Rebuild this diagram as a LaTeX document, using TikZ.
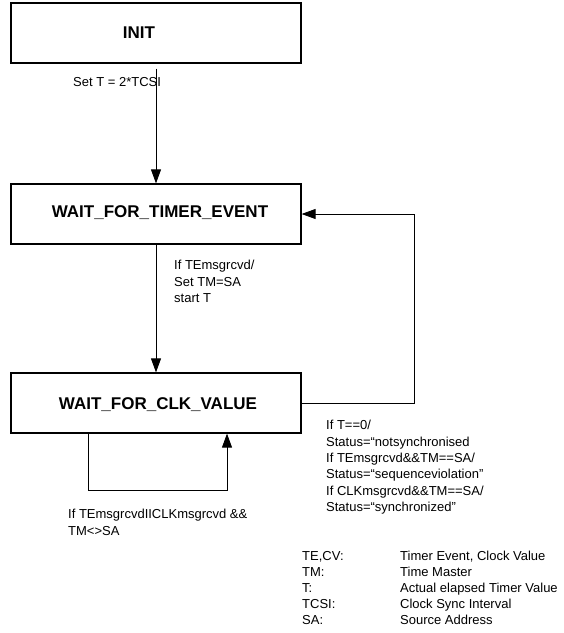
\documentclass[tikz,border=0pt]{standalone}
\usepackage{fontspec}
\setmainfont{Liberation Sans}
\usetikzlibrary{arrows.meta}
\begin{document}
\begin{tikzpicture}[x=1pt,y=-1pt,
  state/.style={draw,line width=1.2pt,minimum width=290pt,minimum height=60pt,inner sep=0pt},
  statelbl/.style={font=\fontsize{17}{20}\selectfont\bfseries,inner sep=0pt},
  cond/.style={font=\fontsize{13}{16.4}\selectfont,align=left,anchor=north west,inner sep=0pt},
  legend/.style={font=\fontsize{13}{15}\selectfont,anchor=base west,inner sep=0pt},
  trans/.style={line width=0.9pt,-{Triangle[length=14pt,width=10pt]}}]
\useasboundingbox (0,0) rectangle (564,633);
% states
\node[state] (init) at (156,33) {};
\node[statelbl] (initlbl) at (139,33) {INIT};
\node[state] (wte) at (156,214) {};
\node[statelbl] (wtelbl) at (160,213) {WAIT\_FOR\_TIMER\_EVENT};
\node[state] (clk) at (156,403) {};
\node[statelbl] (clklbl) at (158,405) {WAIT\_FOR\_CLK\_VALUE};
% transitions
\draw[trans,shorten <=5pt] (init.south) -- (wte.north);
\draw[trans] (wte.south) -- (clk.north);
\draw[trans] ([xshift=-68pt]clk.south) -- ++(0,57) -| ([xshift=71pt]clk.south);
\draw[trans] (clk.east) -- ++(113,0) |- (wte.east);
% conditions
\node[cond] (settcsi) at (73,77) {Set T = 2*TCSI};
\node[cond] (temsg) at (174,260) {If TEmsgrcvd/\\Set TM=SA\\start T};
\node[cond] (status) at (326,420) {If T==0/\\Status=“notsynchronised\\If TEmsgrcvd\&\&TM==SA/\\Status=“sequenceviolation”\\If CLKmsgrcvd\&\&TM==SA/\\Status=“synchronized”};
\node[cond] (other) at (68,509) {If TEmsgrcvdIICLKmsgrcvd \&\&\\TM<>SA};
% legend
\foreach \acr/\descr [count=\i] in {TE{,}CV:/{Timer Event, Clock Value},TM:/Time Master,T:/Actual elapsed Timer Value,TCSI:/Clock Sync Interval,SA:/Source Address}{
  \node[legend] (acr\i) at (302,{556+16*(\i-1)+4.7}) {\acr};
  \node[legend] (descr\i) at (400,{556+16*(\i-1)+4.7}) {\descr};
}
\end{tikzpicture}
\end{document}
